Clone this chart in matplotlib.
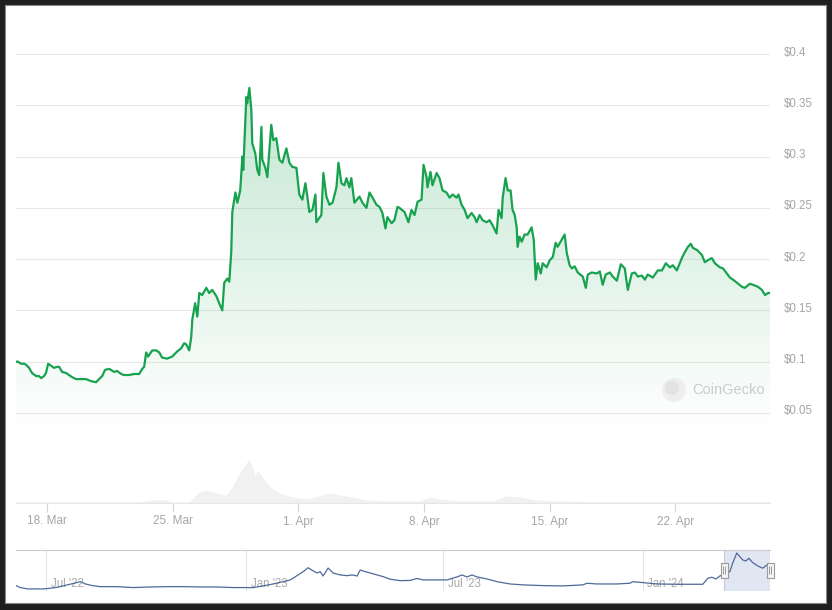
import numpy as np
import pandas as pd
import matplotlib
matplotlib.use('Agg')
import matplotlib.pyplot as plt
import matplotlib.dates as mdates
import matplotlib.transforms as mtransforms
from matplotlib.patches import Rectangle, Circle
from matplotlib.path import Path

plt.rcParams['font.family'] = ['Liberation Sans', 'DejaVu Sans']

# price, days after 2024-03-16 00:00
price_days = [0.27, 0.38, 0.55, 0.72, 0.83, 1.00, 1.16, 1.39, 1.55, 1.67, 1.83, 1.94, 2.06, 2.22, 2.39,
              2.56, 2.67, 2.84, 3.06, 3.23, 3.39, 3.62, 3.90, 4.17, 4.45, 4.73, 4.90, 5.07, 5.23, 5.46,
              5.74, 5.90, 6.13, 6.29, 6.57, 6.85, 7.13, 7.30, 7.41, 7.52, 7.63, 7.86, 8.08, 8.25, 8.41,
              8.69, 8.97, 9.25, 9.47, 9.64, 9.75, 9.92, 10.03, 10.09, 10.25, 10.37, 10.48, 10.64, 10.87,
              11.03, 11.20, 11.43, 11.59, 11.76, 11.87, 12.04, 12.15, 12.26, 12.32, 12.49, 12.60, 12.76,
              12.88, 12.93, 13.10, 13.15, 13.27, 13.38, 13.43, 13.60, 13.71, 13.82, 13.94, 13.99, 14.16,
              14.27, 14.38, 14.49, 14.60, 14.77, 14.94, 15.11, 15.33, 15.50, 15.66, 15.89, 16.05, 16.22,
              16.39, 16.50, 16.61, 16.78, 16.95, 17.00, 17.28, 17.39, 17.56, 17.73, 17.90, 18.12, 18.23,
              18.40, 18.56, 18.68, 18.84, 18.95, 19.12, 19.40, 19.57, 19.79, 19.96, 20.13, 20.35, 20.52,
              20.68, 20.85, 20.96, 21.19, 21.35, 21.52, 21.63, 21.91, 22.13, 22.30, 22.47, 22.64, 22.86,
              22.97, 23.14, 23.19, 23.36, 23.47, 23.70, 23.86, 24.03, 24.25, 24.42, 24.59, 24.81, 24.92,
              25.09, 25.26, 25.42, 25.65, 25.81, 25.93, 26.09, 26.26, 26.48, 26.65, 26.82, 27.04, 27.15,
              27.32, 27.38, 27.54, 27.66, 27.82, 27.93, 28.05, 28.16, 28.21, 28.32, 28.44, 28.60, 28.77,
              28.99, 29.11, 29.22, 29.33, 29.50, 29.61, 29.83, 30.00, 30.17, 30.33, 30.44, 30.67, 30.83,
              30.95, 31.11, 31.23, 31.39, 31.56, 31.84, 32.01, 32.12, 32.34, 32.62, 32.79, 32.95, 33.12,
              33.35, 33.51, 33.74, 33.96, 34.18, 34.35, 34.57, 34.74, 34.91, 35.13, 35.30, 35.46, 35.74,
              36.02, 36.25, 36.47, 36.69, 36.86, 37.08, 37.36, 37.53, 37.70, 37.86, 37.97, 38.20, 38.48,
              38.64, 38.81, 39.03, 39.20, 39.48, 39.65, 39.87, 40.04, 40.21, 40.43, 40.71, 40.87, 41.15,
              41.32, 41.60, 41.82, 41.99, 42.16, 42.27]
price = [0.100, 0.100, 0.098, 0.098, 0.097, 0.094, 0.089, 0.086, 0.086, 0.084, 0.086, 0.089, 0.098, 0.096, 0.094,
         0.095, 0.095, 0.090, 0.089, 0.087, 0.085, 0.083, 0.083, 0.083, 0.081, 0.080, 0.083, 0.086, 0.092, 0.093,
         0.090, 0.091, 0.088, 0.087, 0.087, 0.088, 0.088, 0.093, 0.095, 0.109, 0.105, 0.111, 0.111, 0.109, 0.104,
         0.103, 0.105, 0.110, 0.113, 0.118, 0.117, 0.111, 0.124, 0.141, 0.157, 0.144, 0.167, 0.165, 0.172,
         0.167, 0.170, 0.164, 0.157, 0.150, 0.177, 0.181, 0.178, 0.207, 0.246, 0.265, 0.255, 0.267,
         0.300, 0.287, 0.358, 0.352, 0.367, 0.345, 0.313, 0.303, 0.287, 0.282, 0.329, 0.297, 0.289,
         0.280, 0.306, 0.331, 0.316, 0.318, 0.297, 0.294, 0.308, 0.294, 0.290, 0.289, 0.263, 0.258,
         0.274, 0.261, 0.246, 0.248, 0.263, 0.236, 0.243, 0.284, 0.261, 0.253, 0.255, 0.270, 0.294,
         0.274, 0.272, 0.279, 0.270, 0.279, 0.255, 0.261, 0.255, 0.250, 0.265, 0.260, 0.253, 0.251,
         0.245, 0.230, 0.241, 0.235, 0.238, 0.251, 0.250, 0.246, 0.236, 0.248, 0.243, 0.256, 0.258,
         0.292, 0.280, 0.270, 0.285, 0.272, 0.284, 0.279, 0.267, 0.265, 0.260, 0.263, 0.260, 0.263,
         0.253, 0.248, 0.240, 0.245, 0.241, 0.236, 0.243, 0.238, 0.236, 0.238, 0.233, 0.225, 0.248,
         0.240, 0.260, 0.279, 0.267, 0.267, 0.248, 0.243, 0.231, 0.212, 0.222, 0.217, 0.224, 0.224,
         0.231, 0.219, 0.180, 0.196, 0.186, 0.196, 0.192, 0.199, 0.202, 0.216, 0.212, 0.219, 0.224,
         0.206, 0.194, 0.191, 0.193, 0.187, 0.183, 0.172, 0.185, 0.187, 0.186, 0.188, 0.175, 0.185,
         0.187, 0.183, 0.179, 0.195, 0.191, 0.170, 0.186, 0.187, 0.183, 0.184, 0.180, 0.185, 0.182,
         0.189, 0.189, 0.196, 0.192, 0.194, 0.189, 0.201, 0.207, 0.212, 0.215, 0.211, 0.209, 0.204,
         0.197, 0.199, 0.201, 0.196, 0.192, 0.191, 0.186, 0.182, 0.180, 0.177, 0.173, 0.172, 0.176,
         0.175, 0.173, 0.170, 0.165, 0.167, 0.167]

# trading volume (relative units), days after 2024-03-16
vol_days = [0.22, 4.90, 7.13, 7.86, 8.64, 8.97, 9.92, 10.48, 10.87, 11.43, 11.98, 12.32, 12.71, 13.10,
            13.27, 13.43, 13.60, 13.71, 13.94, 14.21, 14.49, 14.94, 15.66, 16.44, 17.17, 17.73, 18.29,
            19.01, 19.79, 21.63, 22.75, 23.30, 23.86, 24.98, 26.82, 27.60, 28.32, 29.27, 30.55, 32.79,
            38.37, 42.27]
volume = [1, 1, 1, 3, 3, 1, 1, 11, 13, 10, 8, 16, 30, 40,
          44, 36, 27, 33, 28, 20, 15, 10, 6, 4, 7, 10, 8,
          6, 3, 2, 2, 6, 4, 2, 2, 7, 6, 3, 2, 1.5,
          1.5, 1.5]

# navigator (full history), days after 2022-07-01
nav_days = [-28, -24, -17.5, -2.8, 6.4, 12.9, 19.3, 26.7, 31.3, 35.9, 42.3, 49.7, 65.3, 80.0, 95.7,
            111.3, 126.0, 141.7, 157.3, 172.0, 190.4, 199.6, 208.8, 218.0, 224.5, 231.8, 236.4, 241.0,
            245.6, 249.3, 252.1, 254.8, 259.4, 264.0, 270.5, 276.9, 281.5, 286.1, 288.9, 293.5, 298.1,
            304.5, 310.0, 316.5, 325.7, 334.9, 341.3, 346.8, 359.7, 368.9, 378.1, 382.7, 387.3, 391.9,
            396.5, 405.7, 414.9, 426.9, 438.8, 457.2, 475.6, 494.0, 497.7, 506.9, 525.3, 537.3, 540.0,
            549.2, 562.1, 580.5, 604.4, 609.0, 612.7, 616.4, 620.1, 624.7, 629.3, 632.0, 635.7, 638.5,
            641.2, 644.0, 646.8, 650.4, 655.0, 659.6, 663.3]
nav_price = [0.052, 0.033, 0.020, 0.020, 0.030, 0.042, 0.059, 0.078, 0.090, 0.068, 0.052, 0.042, 0.042, 0.033, 0.039,
             0.042, 0.042, 0.039, 0.039, 0.033, 0.033, 0.049, 0.068, 0.090, 0.107, 0.155, 0.187, 0.225,
             0.194, 0.174, 0.187, 0.145, 0.222, 0.174, 0.155, 0.148, 0.155, 0.145, 0.203, 0.187, 0.174,
             0.155, 0.139, 0.114, 0.100, 0.102, 0.121, 0.107, 0.107, 0.107, 0.136, 0.155, 0.136, 0.155,
             0.136, 0.116, 0.090, 0.068, 0.059, 0.052, 0.049, 0.059, 0.075, 0.068, 0.068, 0.075, 0.090,
             0.081, 0.068, 0.065, 0.065, 0.123, 0.133, 0.116, 0.145, 0.165, 0.187, 0.271, 0.367, 0.331,
             0.300, 0.290, 0.316, 0.274, 0.242, 0.220, 0.251]

price_ticks = [0.05, 0.1, 0.15, 0.2, 0.25, 0.3, 0.35, 0.4]
date_ticks = ['2024-03-18', '2024-03-25', '2024-04-01', '2024-04-08', '2024-04-15', '2024-04-22']
date_labels = ['18. Mar', '25. Mar', '1. Apr', '8. Apr', '15. Apr', '22. Apr']
nav_ticks = ['2022-07-01', '2023-01-01', '2023-07-01', '2024-01-01']
nav_labels = ["Jul '22", "Jan '23", "Jul '23", "Jan '24"]

t = pd.Timestamp('2024-03-16') + pd.to_timedelta(price_days, unit='D')
tv = pd.Timestamp('2024-03-16') + pd.to_timedelta(vol_days, unit='D')
tn = pd.Timestamp('2022-07-01') + pd.to_timedelta(nav_days, unit='D')

W, H = 832, 610
fig = plt.figure(figsize=(W / 100, H / 100), dpi=100, facecolor='#1f1f1f')
fig.add_artist(Rectangle((5 / W, 1 - 603 / H), 821 / W, 598 / H, transform=fig.transFigure,
                         facecolor='white', edgecolor='#8a8a8a', lw=0.8, zorder=-1))


def box(x0, y0, x1, y1):
    # pixel box (top-left origin) -> figure fraction rect
    return [x0 / W, 1 - y1 / H, (x1 - x0) / W, (y1 - y0) / H]


ax_vol = fig.add_axes(box(16, 20, 770, 503))
ax = fig.add_axes(box(16, 20, 770, 503), sharex=ax_vol)
for a in (ax_vol, ax):
    a.set_facecolor('none')
    for s in a.spines.values():
        s.set_visible(False)

# volume
ax_vol.fill_between(tv, volume, 0, color='#f1f1f1', lw=0)
ax_vol.set_ylim(0, 483)
ax_vol.set_yticks([])
ax_vol.tick_params(axis='x', which='both', length=0, labelbottom=False)

# price line + gradient fill
green = '#17a24f'
ax.plot(t, price, color=green, lw=1.6, zorder=3, solid_joinstyle='round')
ylo, yhi = -0.0378, 0.4332
fill = ax.fill_between(t, price, ylo, color='none', lw=0)
grad = np.zeros((256, 1, 4))
grad[..., :3] = matplotlib.colors.to_rgb(green)
grad[..., 3] = np.linspace(0, 0.26, 256)[:, None]
x0, x1 = mdates.date2num(t[0]), mdates.date2num(t[-1])
im = ax.imshow(grad, extent=[x0, x1, 0.03, 0.37], aspect='auto', origin='lower',
               interpolation='bilinear', zorder=2)
im.set_clip_path(fill.get_paths()[0], transform=ax.transData)
ax.set_xlim(t[0], t[-1])
ax.set_ylim(ylo, yhi)

ax.set_yticks(price_ticks)
ax.set_yticklabels([f'${v:g}' for v in price_ticks])
ax.yaxis.tick_right()
ax.grid(axis='y', color='#e8e8e8', lw=0.8, zorder=0)
ax.tick_params(axis='y', length=0, pad=10, labelsize=8.3, labelcolor='#a6a6a6')
for lab in ax.get_yticklabels():
    lab.set_transform(lab.get_transform() + mtransforms.ScaledTranslation(0, 3 / 100, fig.dpi_scale_trans))

ax.set_xticks(pd.to_datetime(date_ticks))
ax.set_xticklabels(date_labels)
ax.tick_params(axis='x', length=6.5, width=0.8, color='#d6d6d6', pad=2.5, labelsize=8.5, labelcolor='#a6a6a6')
ax.spines['bottom'].set_visible(True)
ax.spines['bottom'].set_color('#e6e6e6')
ax.spines['bottom'].set_linewidth(0.8)

# watermark
fig.add_artist(Circle((674, H - 390), 12, transform=mtransforms.IdentityTransform(),
                      facecolor='#eeeeee', edgecolor='none', zorder=5))
fig.add_artist(Circle((672, H - 388), 7, transform=mtransforms.IdentityTransform(),
                      facecolor='#e2e2e2', edgecolor='none', zorder=5))
fig.text(692 / W, 1 - 390 / H, 'CoinGecko', color='#cbcbcb', fontsize=10.5, va='center', ha='left', zorder=6)

# navigator
nav = fig.add_axes(box(16, 550, 770, 591))
nav.set_facecolor('none')
nav.plot(tn, nav_price, color='#4f6a99', lw=0.9, zorder=3)
nav.set_xlim(tn[0], t[-1])
nav.set_ylim(0, 0.396)
nav.set_yticks([])
nav.set_xticks(pd.to_datetime(nav_ticks))
nav.tick_params(axis='x', length=0, labelbottom=False)
nav.grid(axis='x', color='#e6e6e6', lw=0.8)
for s in nav.spines.values():
    s.set_visible(False)
nav.spines['top'].set_visible(True)
nav.spines['top'].set_color('#cccccc')
for d, lab in zip(pd.to_datetime(nav_ticks), nav_labels):
    nav.annotate(lab, xy=(d, 0.17), xycoords=('data', 'axes fraction'), xytext=(3.4, 0),
                 textcoords='offset points', va='center', ha='left', fontsize=8.3, color='#a8a8a8', zorder=2)

nav.axvspan(t[0], t[-1], facecolor=(0.4, 0.52, 0.76, 0.2), edgecolor='#c3c9d6', lw=0.8, zorder=1)
handle = Path([(-3.5, -7.5), (3.5, -7.5), (3.5, 7.5), (-3.5, 7.5), (-3.5, -7.5)])
grip = Path([(-1, -4), (-1, 4), (1, -4), (1, 4)], [Path.MOVETO, Path.LINETO, Path.MOVETO, Path.LINETO])
htrans = mtransforms.blended_transform_factory(nav.transData, nav.transAxes)
for e in (t[0], t[-1]):
    nav.plot([e], [0.51], marker=handle, markersize=10.8, mfc='#f4f4f4', mec='#9a9a9a', mew=0.8,
             transform=htrans, zorder=5, clip_on=False)
    nav.plot([e], [0.51], marker=grip, markersize=5.8, mfc='none', mec='#9a9a9a', mew=0.7,
             transform=htrans, zorder=6, clip_on=False)

fig.savefig('out.png', dpi=100, facecolor=fig.get_facecolor())
